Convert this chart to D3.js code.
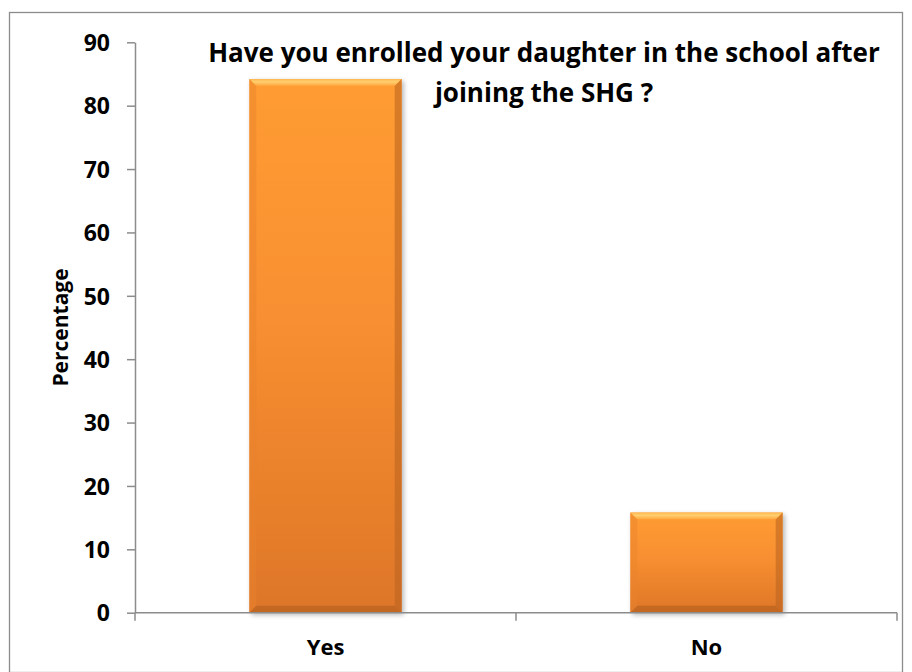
<!DOCTYPE html>
<html>
<head>
<meta charset="utf-8">
<script src="https://cdn.jsdelivr.net/npm/d3@7"></script>
<style>
  html, body { margin: 0; padding: 0; background: #fff; }
  svg { display: block; font-family: "Open Sans", "Noto Sans", sans-serif; font-weight: bold; }
</style>
</head>
<body>
<svg id="chart" width="912" height="672"></svg>
<script>
// Survey answers (percentage of respondents)
const categories = ["Yes", "No"];
const values = [84.2, 15.8];
const yTicks = [0, 10, 20, 30, 40, 50, 60, 70, 80, 90];
const titleLines = ["Have you enrolled your daughter in the school after", "joining the SHG ?"];
const yAxisTitle = "Percentage";

const svg = d3.select("#chart");
const W = 912, H = 672;
const plot = { left: 135, right: 897, top: 42.3, bottom: 612.7 };
const FONT = "'Open Sans', 'Noto Sans', sans-serif";

// Outer chart frame
svg.append("rect")
  .attr("x", 9.5).attr("y", 12.5)
  .attr("width", W - 19).attr("height", H - 12)
  .attr("fill", "#fff").attr("stroke", "#8c8c8c").attr("stroke-width", 1.3);

const x = d3.scaleBand().domain(categories).range([plot.left, plot.right]).paddingInner(0.6).paddingOuter(0.3);
const xOuter = d3.scaleBand().domain(categories).range([plot.left, plot.right]);
const y = d3.scaleLinear().domain([0, 90]).range([plot.bottom, plot.top]);

// Gradients for the bevelled bars
const defs = svg.append("defs");
const body = defs.append("linearGradient").attr("id", "barBody").attr("x1", 0).attr("y1", 0).attr("x2", 0).attr("y2", 1);
body.append("stop").attr("offset", "0%").attr("stop-color", "#ff9c32");
body.append("stop").attr("offset", "45%").attr("stop-color", "#f88f30");
body.append("stop").attr("offset", "100%").attr("stop-color", "#de7629");
const topG = defs.append("linearGradient").attr("id", "barTop").attr("x1", 0).attr("y1", 0).attr("x2", 0).attr("y2", 1);
topG.append("stop").attr("offset", "0%").attr("stop-color", "#ffb650");
topG.append("stop").attr("offset", "40%").attr("stop-color", "#ffd070");
topG.append("stop").attr("offset", "100%").attr("stop-color", "#ffa23a");
const shadow = defs.append("filter").attr("id", "barShadow").attr("x", "-10%").attr("y", "-10%").attr("width", "130%").attr("height", "130%");
shadow.append("feGaussianBlur").attr("in", "SourceAlpha").attr("stdDeviation", 2.5).attr("result", "b");
shadow.append("feOffset").attr("in", "b").attr("dx", 1.5).attr("dy", 1.5).attr("result", "o");
shadow.append("feComponentTransfer").attr("in", "o").attr("result", "s")
  .append("feFuncA").attr("type", "linear").attr("slope", 0.3);
const merge = shadow.append("feMerge");
merge.append("feMergeNode").attr("in", "s");
merge.append("feMergeNode").attr("in", "SourceGraphic");

// Bars
const bev = 7;
const bars = svg.append("g").selectAll("g").data(categories).join("g");
bars.each(function (c, i) {
  const g = d3.select(this);
  const x0 = x(c), x1 = x(c) + x.bandwidth();
  const y0 = y(values[i]), y1 = y(0);
  g.append("rect").attr("x", x0).attr("y", y0).attr("width", x1 - x0).attr("height", y1 - y0)
    .attr("fill", "url(#barBody)").attr("filter", "url(#barShadow)");
  // bevel faces
  g.append("polygon").attr("points", [[x0, y0], [x1, y0], [x1 - bev, y0 + bev], [x0 + bev, y0 + bev]].join(" "))
    .attr("fill", "url(#barTop)");
  g.append("polygon").attr("points", [[x0, y0], [x0 + bev, y0 + bev], [x0 + bev, y1 - bev], [x0, y1]].join(" "))
    .attr("fill", "#e9822c").attr("opacity", 0.45);
  g.append("polygon").attr("points", [[x1, y0], [x1 - bev, y0 + bev], [x1 - bev, y1 - bev], [x1, y1]].join(" "))
    .attr("fill", "#b8621f").attr("opacity", 0.55);
  g.append("polygon").attr("points", [[x0, y1], [x0 + bev, y1 - bev], [x1 - bev, y1 - bev], [x1, y1]].join(" "))
    .attr("fill", "#b8621f").attr("opacity", 0.7);
});

// Y axis
const yAxis = svg.append("g").attr("transform", `translate(${plot.left},0)`)
  .call(d3.axisLeft(y).tickValues(yTicks).tickSize(8).tickPadding(17).tickSizeOuter(0));
yAxis.select(".domain").attr("stroke", "#8c8c8c").attr("stroke-width", 1.5);
yAxis.selectAll(".tick line").attr("stroke", "#8c8c8c").attr("stroke-width", 1.5);
yAxis.selectAll(".tick text").attr("font-size", 23).attr("font-family", FONT)
  .attr("font-weight", "bold").attr("fill", "#000").attr("dy", "0.36em");

// X axis with category dividers
const xAxis = svg.append("g").attr("transform", `translate(0,${plot.bottom})`);
xAxis.append("line").attr("x1", plot.left).attr("x2", plot.right).attr("stroke", "#8c8c8c").attr("stroke-width", 1.5);
const dividers = [plot.left].concat(categories.map(c => xOuter(c) + xOuter.bandwidth()));
xAxis.selectAll("line.div").data(dividers).join("line").attr("class", "div")
  .attr("x1", d => d).attr("x2", d => d).attr("y1", 0).attr("y2", 8)
  .attr("stroke", "#8c8c8c").attr("stroke-width", 1.5);
xAxis.selectAll("text").data(categories).join("text")
  .attr("x", c => x(c) + x.bandwidth() / 2).attr("y", 42)
  .attr("text-anchor", "middle").attr("font-size", 22).attr("fill", "#000").text(c => c);

// Axis title
svg.append("text")
  .attr("transform", `translate(68,${(plot.top + plot.bottom) / 2}) rotate(-90)`)
  .attr("text-anchor", "middle").attr("font-size", 21).attr("fill", "#000").text(yAxisTitle);

// Chart title
svg.append("g").selectAll("text").data(titleLines).join("text")
  .attr("x", 544).attr("y", (d, i) => 62 + i * 39.5)
  .attr("text-anchor", "middle").attr("font-size", 26).attr("fill", "#000").text(d => d);
</script>
</body>
</html>
